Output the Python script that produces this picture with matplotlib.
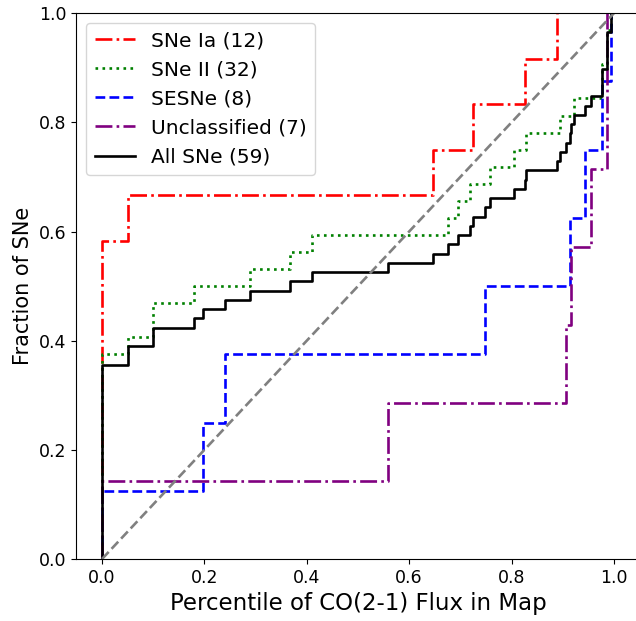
import numpy as np
import matplotlib
matplotlib.use("Agg")
import matplotlib.pyplot as plt

# Percentile of CO(2-1) flux at each SN position, by type
sne_ia = [0, 0, 0, 0, 0, 0, 0, 0.05, 0.646, 0.725, 0.826, 0.889]
sne_ii = [0] * 12 + [0.05, 0.10, 0.10, 0.18, 0.29, 0.367, 0.41,
                     0.676, 0.696, 0.719, 0.758, 0.805, 0.829, 0.895, 0.922,
                     0.976, 0.976, 0.986, 0.986, 0.995]
sesne = [0, 0.197, 0.24, 0.748, 0.914, 0.944, 0.977, 0.995]
unclassified = [0, 0.559, 0.906, 0.916, 0.955, 0.986, 0.986]
all_sne = sne_ia + sne_ii + sesne + unclassified

groups = [
    (sne_ia, "SNe Ia", "red", "-."),
    (sne_ii, "SNe II", "green", ":"),
    (sesne, "SESNe", "blue", "--"),
    (unclassified, "Unclassified", "purple", "-."),
    (all_sne, "All SNe", "black", "-"),
]


def cdf(vals):
    x = np.sort(np.asarray(vals, dtype=float))
    y = np.arange(1, len(x) + 1) / len(x)
    return np.concatenate([[0], x]), np.concatenate([[0], y])


fig = plt.figure(figsize=(6.36, 6.21), dpi=100)
ax = fig.add_axes([0.1201, 0.0998, 0.8855, 0.879])

for vals, name, color, ls in groups:
    x, y = cdf(vals)
    ax.step(x, y, where="post", color=color, linestyle=ls, linewidth=1.9,
            label=f"{name} ({len(vals)})")

ax.plot([0, 1], [0, 1], color="grey", linestyle="--", linewidth=1.9)

ax.set_xlim(-0.05, 1.05)
ax.set_ylim(0, 1)
ax.set_xlabel("Percentile of CO(2-1) Flux in Map", fontsize=16.5)
ax.set_ylabel("Fraction of SNe", fontsize=15)
ax.tick_params(labelsize=12.5)
ax.legend(loc="upper left", fontsize=14.5, labelspacing=0.5)

fig.savefig("out.png", dpi=100)
